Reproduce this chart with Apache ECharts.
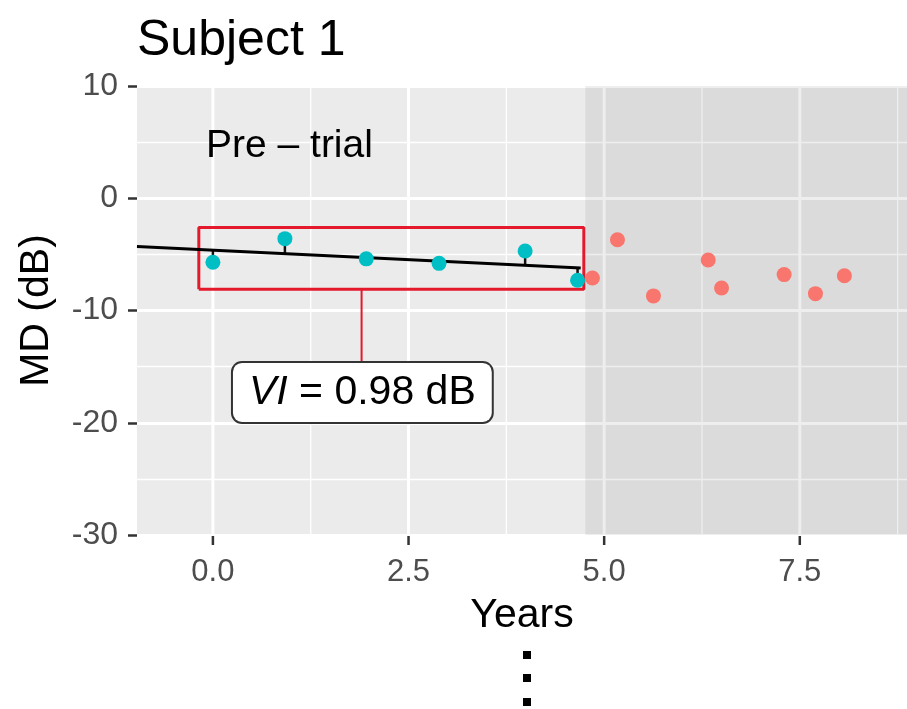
<!DOCTYPE html>
<html>
<head>
<meta charset="utf-8">
<script src="https://cdn.jsdelivr.net/npm/echarts@6/dist/echarts.min.js"></script>
<style>
html,body{margin:0;padding:0;background:#fff;}
#chart{width:907px;height:709px;}
</style>
</head>
<body>
<div id="chart"></div>
<script>
// ---- data ----
const preYears  = [0.00, 0.92, 1.96, 2.89, 3.99, 4.66];
const preMD     = [-5.7, -3.6, -5.4, -5.8, -4.7, -7.3];
const preFit    = [-4.62, -4.93, -5.28, -5.59, -5.96, -6.18];
const trialYears = [4.85, 5.17, 5.63, 6.33, 6.50, 7.30, 7.70, 8.07];
const trialMD    = [-7.1, -3.7, -8.7, -5.5, -8.0, -6.8, -8.5, -6.9];
const fitLineX = [-0.97, 4.70];
const fitLineY = [-4.30, -6.21];
const viBoxX = [-0.18, 4.74];
const viBoxY = [-8.1, -2.6];
const connectorX = 1.90;
const connectorY = [-8.1, -14.6];
const viLabelPos = [1.91, -17.3];
const viValue = 0.98;
const trialStart = 4.76;
const xTicks = [0, 2.5, 5, 7.5];
const xMinor = [1.25, 3.75, 6.25, 8.75];
const xRange = [-0.97, 8.87];
const yRange = [-30, 10];

const chart = echarts.init(document.getElementById('chart'));
const FONT = 'Liberation Sans, Arial, sans-serif';

function gridRender(params, api) {
  const children = [];
  xMinor.forEach(v => {
    const p1 = api.coord([v, yRange[1]]), p2 = api.coord([v, yRange[0]]);
    children.push({type:'line', shape:{x1:p1[0], y1:p1[1], x2:p2[0], y2:p2[1]},
      style:{stroke:'#ffffff', lineWidth:1.3}});
  });
  xTicks.forEach(v => {
    const p1 = api.coord([v, yRange[1]]), p2 = api.coord([v, yRange[0]]);
    children.push({type:'line', shape:{x1:p1[0], y1:p1[1], x2:p2[0], y2:p2[1]},
      style:{stroke:'#ffffff', lineWidth:3}});
    children.push({type:'line', shape:{x1:p2[0], y1:p2[1]+1, x2:p2[0], y2:p2[1]+10},
      style:{stroke:'#333333', lineWidth:2.5}});
  });
  return {type:'group', children};
}

const option = {
  animation:false,
  grid:{left:137, right:0, top:86, bottom:174, show:true, backgroundColor:'#ebebeb', borderWidth:0},
  xAxis:{
    type:'value', min:xRange[0], max:xRange[1],
    axisLine:{show:false, onZero:false},
    axisTick:{show:false},
    axisLabel:{show:true, customValues:xTicks, formatter:v=>v.toFixed(1), fontSize:31, color:'#4d4d4d', fontFamily:FONT, margin:22},
    splitLine:{show:false},
    name:'Years', nameLocation:'middle', nameGap:60,
    nameTextStyle:{fontSize:41, color:'#000', fontFamily:FONT}
  },
  yAxis:{
    type:'value', min:yRange[0], max:yRange[1], interval:10,
    axisLine:{show:false, onZero:false},
    axisTick:{show:true, length:9, lineStyle:{color:'#333', width:2.5}},
    axisLabel:{fontSize:32, color:'#4d4d4d', fontFamily:FONT, margin:19},
    splitLine:{show:true, lineStyle:{color:'#ffffff', width:3}},
    minorTick:{show:false, splitNumber:2},
    minorSplitLine:{show:true, lineStyle:{color:'#ffffff', width:1.3}},
    name:'MD (dB)', nameLocation:'middle', nameGap:80,
    nameTextStyle:{fontSize:41, color:'#000', fontFamily:FONT}
  },
  graphic:[
    {type:'text', z:100, left:137, top:16, style:{text:'Subject 1', font:'50px '+FONT, fill:'#000'}},
    {type:'text', z:100, left:206, top:127, style:{text:'Pre \u2013 trial', font:'39px '+FONT, fill:'#000'}},
    {type:'rect', z:100, shape:{x:523, y:651, width:8, height:8}, style:{fill:'#000'}},
    {type:'rect', z:100, shape:{x:523, y:674, width:8, height:8}, style:{fill:'#000'}},
    {type:'rect', z:100, shape:{x:523, y:698, width:8, height:8}, style:{fill:'#000'}}
  ],
  series:[
    { // vertical grid lines and x ticks
      type:'custom', z:1, silent:true, clip:false,
      data:[[xRange[0], yRange[0]]],
      renderItem: gridRender
    },
    { // trial period shading
      type:'custom', z:2, silent:true,
      data:[[trialStart, xRange[1]]],
      renderItem:(params, api)=>{
        const a = api.coord([api.value(0), yRange[1]]);
        const b = api.coord([api.value(1), yRange[0]]);
        return {type:'rect', shape:{x:a[0], y:a[1], width:b[0]-a[0], height:b[1]-a[1]},
          style:{fill:'rgba(0,0,0,0.065)'}};
      }
    },
    { // red VI box
      type:'line', z:3, silent:true, symbol:'none',
      data:[[viBoxX[0],viBoxY[0]],[viBoxX[1],viBoxY[0]],[viBoxX[1],viBoxY[1]],[viBoxX[0],viBoxY[1]],[viBoxX[0],viBoxY[0]]],
      lineStyle:{color:'#e41a2c', width:3}
    },
    { // connector
      type:'line', z:3, silent:true, symbol:'none',
      data:[[connectorX, connectorY[0]],[connectorX, connectorY[1]]],
      lineStyle:{color:'#e41a2c', width:2}
    },
    { // residuals
      type:'custom', z:4, silent:true,
      data: preYears.map((x,i)=>[x, preMD[i], preFit[i]]),
      renderItem:(params, api)=>{
        const p1 = api.coord([api.value(0), api.value(1)]);
        const p2 = api.coord([api.value(0), api.value(2)]);
        return {type:'line', shape:{x1:p1[0], y1:p1[1], x2:p2[0], y2:p2[1]},
          style:{stroke:'#111', lineWidth:2.5}};
      }
    },
    { // regression line
      type:'line', z:5, silent:true, symbol:'none',
      data: fitLineX.map((x,i)=>[x, fitLineY[i]]),
      lineStyle:{color:'#000', width:3}
    },
    { // pre-trial points
      type:'scatter', z:6, symbolSize:15,
      data: preYears.map((x,i)=>[x, preMD[i]]),
      itemStyle:{color:'#00BFC4', opacity:1}
    },
    { // trial points
      type:'scatter', z:6, symbolSize:15,
      data: trialYears.map((x,i)=>[x, trialMD[i]]),
      itemStyle:{color:'#F8766D', opacity:1}
    },
    { // VI label
      type:'scatter', z:7, symbolSize:0, silent:true,
      itemStyle:{opacity:1},
      data:[viLabelPos],
      label:{show:true, position:'inside', opacity:1,
        formatter:'{i|VI} = ' + viValue.toFixed(2) + ' dB',
        fontSize:41, color:'#000', fontFamily:FONT,
        backgroundColor:'#ffffff', borderColor:'#333', borderWidth:2, borderRadius:9,
        padding:[9,16,9,16],
        rich:{i:{fontStyle:'italic', fontSize:41, color:'#000', fontFamily:FONT}}
      }
    }
  ]
};
chart.setOption(option);
</script>
</body>
</html>
